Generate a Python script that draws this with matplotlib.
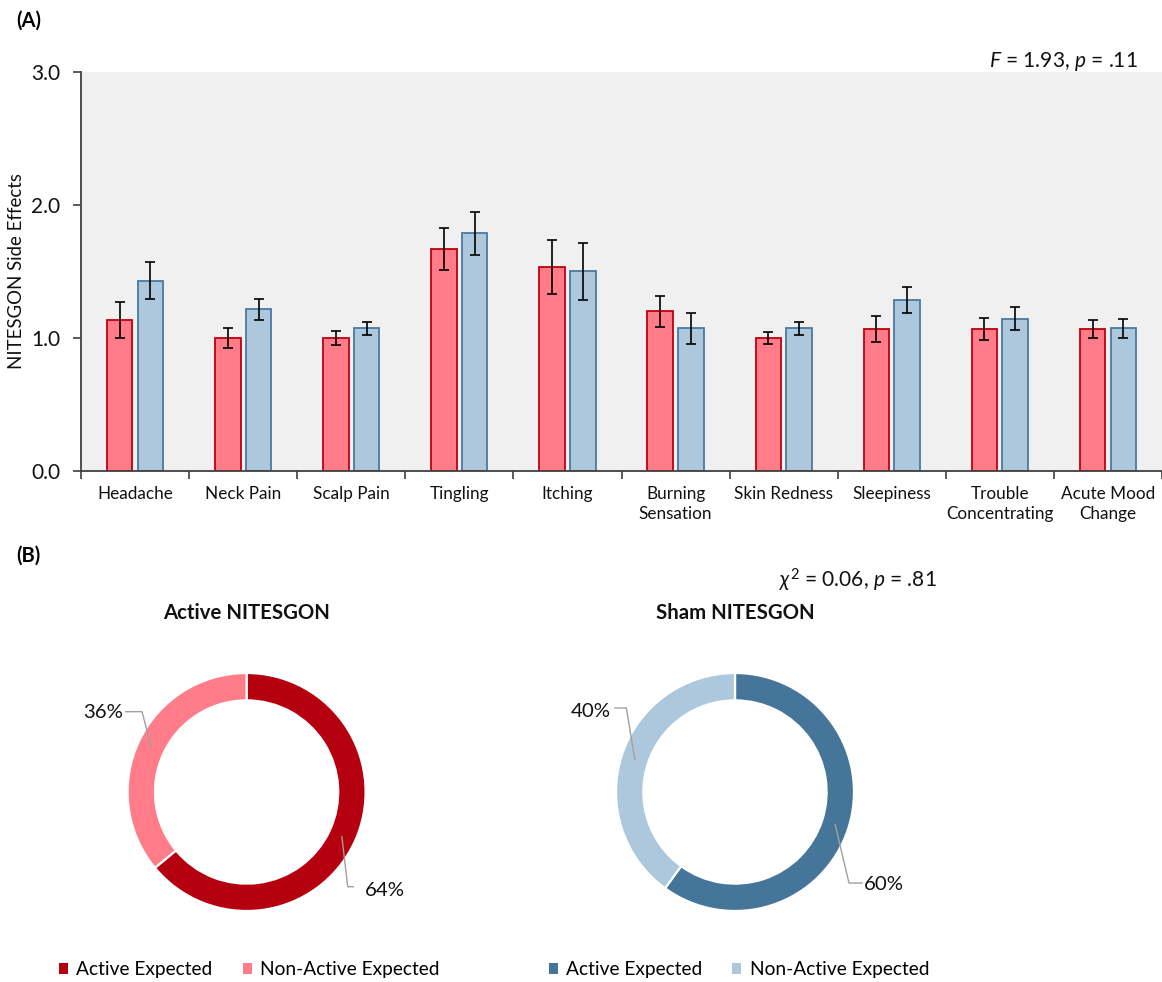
import matplotlib
matplotlib.use("Agg")
import matplotlib.pyplot as plt
import numpy as np
from matplotlib.patches import Patch

plt.rcParams['font.family'] = ['Lato', 'DejaVu Sans']
plt.rcParams['mathtext.fontset'] = 'custom'
plt.rcParams['mathtext.rm'] = 'Lato'
plt.rcParams['mathtext.it'] = 'Lato:italic'
plt.rcParams['mathtext.bf'] = 'Lato:bold'

# ---- data -------------------------------------------------------------
categories = ["Headache", "Neck Pain", "Scalp Pain", "Tingling", "Itching",
              "Burning\nSensation", "Skin Redness", "Sleepiness",
              "Trouble\nConcentrating", "Acute Mood\nChange"]
active_mean = [1.133, 1.000, 1.000, 1.667, 1.533, 1.200, 1.000, 1.067, 1.067, 1.067]
active_se = [0.133, 0.075, 0.050, 0.155, 0.205, 0.115, 0.048, 0.098, 0.083, 0.067]
sham_mean = [1.429, 1.214, 1.071, 1.786, 1.500, 1.071, 1.071, 1.286, 1.143, 1.071]
sham_se = [0.140, 0.080, 0.050, 0.160, 0.215, 0.118, 0.050, 0.100, 0.087, 0.068]
y_ticks = [0.0, 1.0, 2.0, 3.0]

expect_labels = ["Active Expected", "Non-Active Expected"]
active_expect = [64, 36]
sham_expect = [60, 40]

anova_text = r"$F$ = 1.93, $p$ = .11"
chi_text = r"$\chi^2$ = 0.06, $p$ = .81"

# ---- colours ----------------------------------------------------------
RED_FILL, RED_EDGE = "#FF7C88", "#C00010"
BLUE_FILL, BLUE_EDGE = "#ADC8DC", "#4A7AA0"
RED_DARK, BLUE_DARK = "#B4000F", "#45769A"
AX_GREY = "#404040"
TXT = "#111111"

W, H = 1162, 982
fig = plt.figure(figsize=(W / 100, H / 100), dpi=100)


def fx(px):
    return px / W


def fy(py):
    return 1 - py / H


# ---- panel A: grouped bars -------------------------------------------
ax = fig.add_axes([fx(81), fy(471), 1 - fx(81), (471 - 71.7) / H])
ax.set_facecolor("#F0F0F0")
x = np.arange(len(categories))
bw = 0.236
off = 0.142
err_kw = dict(ecolor="black", elinewidth=1.2, capsize=3.6, capthick=1.2)
ax.bar(x - off, active_mean, bw, yerr=active_se, color=RED_FILL,
       edgecolor=RED_EDGE, linewidth=1.3, error_kw=err_kw, zorder=2)
ax.bar(x + off, sham_mean, bw, yerr=sham_se, color=BLUE_FILL,
       edgecolor=BLUE_EDGE, linewidth=1.3, error_kw=err_kw, zorder=2)

ax.set_xlim(-0.5, len(categories) - 0.5)
ax.set_ylim(0, 3.0)
ax.set_yticks(y_ticks)
ax.set_yticklabels([f"{v:.1f}" for v in y_ticks], fontsize=15, color=TXT)
ax.set_xticks(np.arange(len(categories) + 1) - 0.5)
ax.set_xticklabels([])
ax.set_xticks(x, minor=True)
ax.set_xticklabels(categories, minor=True, fontsize=12.3, linespacing=1.3,
                   color=TXT)
ax.tick_params(axis="x", which="major", length=6, width=1.2, color=AX_GREY,
               direction="out")
ax.tick_params(axis="x", which="minor", length=0, pad=11)
ax.tick_params(axis="y", length=6, width=1.2, color=AX_GREY, pad=9)
for s in ("top", "right"):
    ax.spines[s].set_visible(False)
for s in ("left", "bottom"):
    ax.spines[s].set_color(AX_GREY)
    ax.spines[s].set_linewidth(1.3)
ax.set_ylabel("NITESGON Side Effects", fontsize=13.4, color=TXT)
ax.yaxis.set_label_coords(-0.052, 0.5)

fig.text(fx(1138), fy(66.7), anova_text, ha="right", va="baseline",
         fontsize=15, color=TXT)
fig.text(fx(16), fy(21), "(A)", fontweight="bold", fontsize=14.5, va="center")
fig.text(fx(16), fy(556), "(B)", fontweight="bold", fontsize=14.5, va="center")

# ---- panel B: donuts ---------------------------------------------------
RING = 0.23
R_PX = 119.0
HALF = 135.0


def donut(cx, cy, values, colors, title, label_spots):
    a = fig.add_axes([fx(cx - HALF), fy(cy + HALF), 2 * HALF / W, 2 * HALF / H])
    wedges, _ = a.pie(values, colors=colors, startangle=90, counterclock=False,
                      radius=1.0,
                      wedgeprops=dict(width=RING, edgecolor="white", linewidth=1.6))
    lim = HALF / R_PX
    a.set_xlim(-lim, lim)
    a.set_ylim(-lim, lim)
    a.set_aspect("equal")
    a.axis("off")
    rmid = 1 - RING / 2
    for w, v, (ex, ey, hx, tx, ty, ha) in zip(wedges, values, label_spots):
        ang = np.deg2rad((w.theta1 + w.theta2) / 2)
        p0 = (rmid * np.cos(ang), rmid * np.sin(ang))
        a.plot([p0[0], ex, hx], [p0[1], ey, ey], color="#A0A0A0", lw=1.0,
               clip_on=False)
        a.text(tx, ty, f"{v}%", ha=ha, va="center", fontsize=14.7,
               color=TXT, clip_on=False)
    fig.text(fx(cx), fy(613), title, ha="center", va="center",
             fontweight="bold", fontsize=14.7, color=TXT)
    return a


donut(246.6, 792, active_expect, [RED_DARK, RED_FILL], "Active NITESGON",
      [(0.850, -0.796, 0.897, 0.99, -0.83, "left"),
       (-0.879, 0.675, -1.015, -1.04, 0.665, "right")])
donut(735, 792, sham_expect, [BLUE_DARK, BLUE_FILL], "Sham NITESGON",
      [(0.958, -0.765, 1.067, 1.085, -0.78, "left"),
       (-0.913, 0.706, -1.008, -1.045, 0.68, "right")])

fig.text(fx(858), fy(580), chi_text, ha="center", va="center", fontsize=15,
         color=TXT)

# ---- legends -----------------------------------------------------------
leg_kw = dict(loc="center left", ncol=2, frameon=False, fontsize=13.8,
              handlelength=0.47, handleheight=0.47, handletextpad=0.42,
              columnspacing=1.6, borderpad=0, borderaxespad=0)
fig.legend(handles=[Patch(fc=c, ec="none") for c in (RED_DARK, RED_FILL)],
           labels=expect_labels, bbox_to_anchor=(fx(59), fy(970)), **leg_kw)
fig.legend(handles=[Patch(fc=c, ec="none") for c in (BLUE_DARK, BLUE_FILL)],
           labels=expect_labels, bbox_to_anchor=(fx(548.5), fy(970)), **leg_kw)

fig.savefig("out.png", dpi=100)
